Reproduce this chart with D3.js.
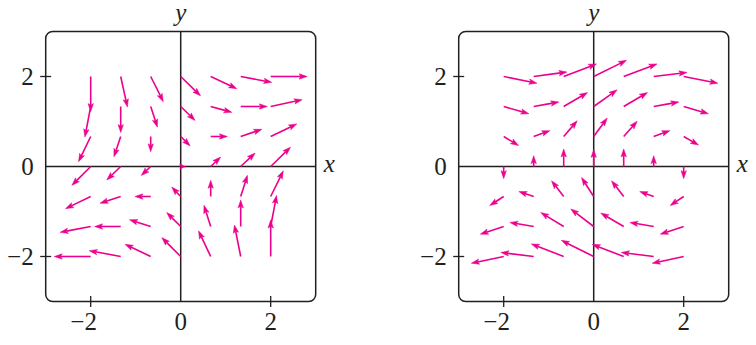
<!DOCTYPE html>
<html>
<head>
<meta charset="utf-8">
<script src="https://cdn.jsdelivr.net/npm/d3@7"></script>
<style>
    body { margin: 0; background: #fff; }
    svg { display: block; }
</style>
</head>
<body>
<svg id="chart" width="756" height="345"></svg>
<script>
// grid points (tails of the arrows)
const gridX = [-2, -4 / 3, -2 / 3, 0, 2 / 3, 4 / 3, 2]
const gridY = [2, 4 / 3, 2 / 3, 0, -2 / 3, -4 / 3, -2]

// arrow vectors [dx, dy], one row per gridY, one column per gridX
const leftVectors = [
    [[0, -0.78], [0.15, -0.68], [0.28, -0.56], [0.44, -0.43], [0.58, -0.27], [0.69, -0.13], [0.81, 0]],
    [[-0.13, -0.68], [0, -0.58], [0.15, -0.46], [0.32, -0.31], [0.47, -0.13], [0.59, 0], [0.70, 0.15]],
    [[-0.27, -0.56], [-0.15, -0.45], [0, -0.34], [0.21, -0.21], [0.37, 0], [0.47, 0.16], [0.58, 0.28]],
    [[-0.42, -0.42], [-0.31, -0.30], [-0.21, -0.20], [0.1, 0], [0.22, 0.21], [0.32, 0.30], [0.44, 0.43]],
    [[-0.56, -0.27], [-0.46, -0.15], [-0.35, 0], [-0.2, 0.21], [0, 0.36], [0.15, 0.47], [0.28, 0.57]],
    [[-0.68, -0.13], [-0.58, 0], [-0.47, 0.15], [-0.31, 0.31], [-0.15, 0.47], [0, 0.59], [0.13, 0.69]],
    [[-0.81, 0], [-0.70, 0.13], [-0.57, 0.27], [-0.42, 0.42], [-0.27, 0.57], [-0.14, 0.70], [0, 0.81]]
]

const rightVectors = [
    [[0.74, -0.15], [0.74, 0.10], [0.73, 0.28], [0.73, 0.36], [0.74, 0.28], [0.74, 0.09], [0.76, -0.15]],
    [[0.56, -0.16], [0.56, 0.10], [0.53, 0.31], [0.52, 0.37], [0.53, 0.31], [0.56, 0.10], [0.55, -0.16]],
    [[0.33, -0.20], [0.36, 0.13], [0.30, 0.35], [0.30, 0.41], [0.30, 0.34], [0.36, 0.13], [0.33, -0.19]],
    [[0, -0.27], [0, 0.24], [0, 0.39], [0, 0.38], [0, 0.39], [0, 0.24], [0, -0.27]],
    [[-0.31, -0.20], [-0.33, 0.11], [-0.27, 0.35], [-0.27, 0.42], [-0.27, 0.35], [-0.31, 0.11], [-0.30, -0.20]],
    [[-0.52, -0.17], [-0.53, 0.09], [-0.51, 0.31], [-0.51, 0.39], [-0.51, 0.30], [-0.53, 0.09], [-0.52, -0.17]],
    [[-0.72, -0.15], [-0.73, 0.09], [-0.72, 0.28], [-0.72, 0.36], [-0.70, 0.27], [-0.72, 0.09], [-0.70, -0.15]]
]

const tickValues = [-2, 2]
const labelValues = [-2, 0, 2]
const labelText = ["\u22122", "0", "2"]

const ink = "#231f20"
const arrowColor = "#ec008c"

const svg = d3.select("#chart")

const addText = (g, str, italic) => g.append("text")
    .attr("fill", ink)
    .attr("font-family", "Liberation Serif")
    .attr("font-size", 25)
    .attr("font-style", italic ? "italic" : "normal")
    .text(str)

const drawPanel = (left, vectors) => {
    const x = d3.scaleLinear().domain([-3, 3]).range([left, left + 270])
    const y = d3.scaleLinear().domain([-3, 3]).range([301.5, 31.5])
    const g = svg.append("g")

    // frame
    g.append("rect")
        .attr("x", x(-3))
        .attr("y", y(3))
        .attr("width", x(3) - x(-3))
        .attr("height", y(-3) - y(3))
        .attr("rx", 7)
        .attr("fill", "none")
        .attr("stroke", ink)
        .attr("stroke-width", 1.5)

    // axes through the origin
    g.append("line")
        .attr("x1", x(-3)).attr("x2", x(3))
        .attr("y1", y(0)).attr("y2", y(0))
        .attr("stroke", ink).attr("stroke-width", 1.5)
    g.append("line")
        .attr("x1", x(0)).attr("x2", x(0))
        .attr("y1", y(3)).attr("y2", y(-3))
        .attr("stroke", ink).attr("stroke-width", 1.5)

    // ticks across the frame
    tickValues.forEach(d => {
        g.append("line")
            .attr("x1", x(d)).attr("x2", x(d))
            .attr("y1", y(-3) - 5.5).attr("y2", y(-3) + 5.5)
            .attr("stroke", ink).attr("stroke-width", 1.3)
        g.append("line")
            .attr("y1", y(d)).attr("y2", y(d))
            .attr("x1", x(-3) - 5.5).attr("x2", x(-3) + 5.5)
            .attr("stroke", ink).attr("stroke-width", 1.3)
    })

    // tick labels
    labelValues.forEach((d, i) => {
        addText(g, labelText[i], false)
            .attr("x", x(d) + 6.2)
            .attr("y", 330)
            .attr("text-anchor", "end")
        addText(g, labelText[i], false)
            .attr("x", x(-3) - 12)
            .attr("y", y(d) + 8)
            .attr("text-anchor", "end")
    })

    // axis names
    addText(g, "y", true)
        .attr("x", x(0))
        .attr("y", 21)
        .attr("text-anchor", "middle")
    addText(g, "x", true)
        .attr("x", x(3) + 8)
        .attr("y", y(0) + 5)

    // arrows
    const arrows = []
    gridY.forEach((gy, r) => gridX.forEach((gx, c) => {
        arrows.push({ gx, gy, dx: vectors[r][c][0], dy: vectors[r][c][1] })
    }))

    const headLen = 8
    const halfW = 2.7

    arrows.forEach(a => {
        const px = x(a.gx), py = y(a.gy)
        const qx = x(a.gx + a.dx), qy = y(a.gy + a.dy)
        const len = Math.hypot(qx - px, qy - py)
        const ux = (qx - px) / len, uy = (qy - py) / len
        const nx = -uy, ny = ux
        const hl = Math.min(headLen, len * 1.2)
        const bx = qx - ux * hl, by = qy - uy * hl
        const kx = qx - ux * hl * 0.8, ky = qy - uy * hl * 0.8

        if (len > hl * 0.8) {
            g.append("line")
                .attr("x1", px).attr("y1", py)
                .attr("x2", kx).attr("y2", ky)
                .attr("stroke", arrowColor)
                .attr("stroke-width", 1.6)
        }

        const head = d3.path()
        head.moveTo(qx, qy)
        head.lineTo(bx + nx * halfW, by + ny * halfW)
        head.lineTo(kx, ky)
        head.lineTo(bx - nx * halfW, by - ny * halfW)
        head.closePath()

        g.append("path")
            .attr("d", head.toString())
            .attr("fill", arrowColor)
            .attr("stroke", arrowColor)
            .attr("stroke-width", 0.5)
    })
}

drawPanel(45.7, leftVectors)
drawPanel(458.7, rightVectors)
</script>
</body>
</html>
